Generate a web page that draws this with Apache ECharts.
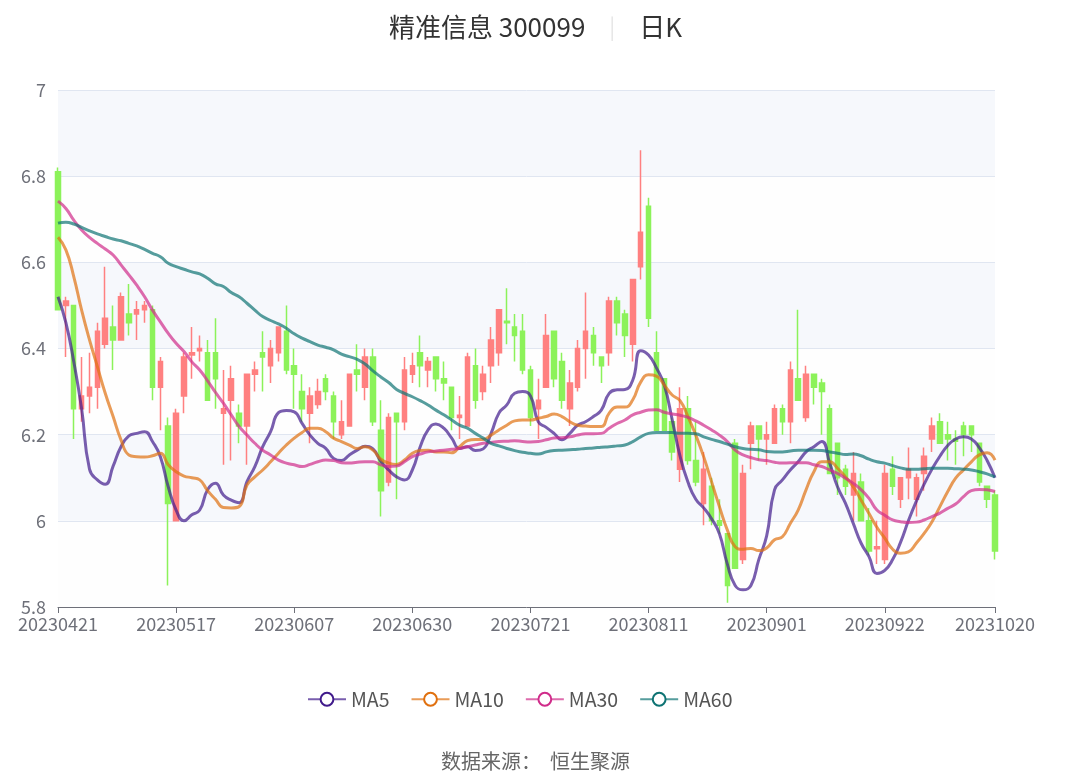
<!DOCTYPE html>
<html>
<head>
<meta charset="utf-8">
<script src="https://cdn.jsdelivr.net/npm/echarts@6/dist/echarts.min.js"></script>
<style>
html,body{margin:0;padding:0;background:#fff;}
#c{width:1071px;height:775px;}
</style>
</head>
<body>
<div id="c"></div>
<script>
var dates = ['20230421','20230424','20230425','20230426','20230427','20230428',
'20230504','20230505','20230508','20230509','20230510','20230511','20230512','20230515','20230516','20230517','20230518','20230519','20230522','20230523','20230524','20230525','20230526','20230529','20230530','20230531',
'20230601','20230602','20230605','20230606','20230607','20230608','20230609','20230612','20230613','20230614','20230615','20230616','20230619','20230620','20230621','20230626','20230627','20230628','20230629','20230630',
'20230703','20230704','20230705','20230706','20230707','20230710','20230711','20230712','20230713','20230714','20230717','20230718','20230719','20230720','20230721','20230724','20230725','20230726','20230727','20230728','20230731',
'20230801','20230802','20230803','20230804','20230807','20230808','20230809','20230810','20230811','20230814','20230815','20230816','20230817','20230818','20230821','20230822','20230823','20230824','20230825','20230828','20230829','20230830','20230831',
'20230901','20230904','20230905','20230906','20230907','20230908','20230911','20230912','20230913','20230914','20230915','20230918','20230919','20230920','20230921','20230922','20230925','20230926','20230927','20230928',
'20231009','20231010','20231011','20231012','20231013','20231016','20231017','20231018','20231019','20231020'];

// [open, close, low, high]
var kline = [
[6.81,6.49,6.49,6.82],[6.50,6.51,6.38,6.52],[6.50,6.26,6.19,6.50],[6.26,6.29,6.23,6.38],[6.29,6.31,6.25,6.39],
[6.31,6.44,6.26,6.46],[6.41,6.47,6.40,6.59],[6.45,6.42,6.35,6.50],[6.42,6.52,6.42,6.53],[6.48,6.46,6.43,6.55],
[6.48,6.49,6.42,6.51],[6.49,6.50,6.46,6.51],[6.49,6.31,6.28,6.50],[6.31,6.37,6.21,6.38],[6.22,6.04,5.85,6.24],
[6.00,6.25,6.00,6.26],[6.29,6.38,6.25,6.39],[6.385,6.39,6.33,6.45],[6.395,6.40,6.37,6.43],[6.39,6.28,6.28,6.42],
[6.39,6.33,6.26,6.47],[6.25,6.26,6.13,6.35],[6.28,6.33,6.14,6.36],[6.25,6.22,6.18,6.27],[6.22,6.34,6.13,6.34],
[6.34,6.35,6.30,6.37],[6.39,6.38,6.30,6.44],[6.36,6.40,6.32,6.42],[6.39,6.45,6.37,6.45],[6.44,6.35,6.34,6.50],
[6.36,6.34,6.26,6.40],[6.30,6.26,6.23,6.34],[6.25,6.29,6.18,6.31],[6.27,6.30,6.26,6.33],[6.33,6.30,6.28,6.34],
[6.29,6.23,6.19,6.30],[6.20,6.23,6.19,6.28],[6.22,6.34,6.22,6.34],[6.35,6.34,6.30,6.41],[6.31,6.38,6.28,6.40],
[6.38,6.23,6.22,6.40],[6.21,6.07,6.01,6.28],[6.09,6.24,6.08,6.25],[6.25,6.23,6.05,6.25],[6.23,6.35,6.21,6.38],
[6.34,6.36,6.32,6.39],[6.39,6.36,6.31,6.43],[6.35,6.37,6.31,6.38],[6.38,6.33,6.30,6.38],[6.33,6.32,6.28,6.37],
[6.31,6.24,6.21,6.31],[6.24,6.245,6.19,6.29],[6.22,6.38,6.22,6.39],[6.36,6.28,6.26,6.40],[6.30,6.34,6.28,6.36],
[6.36,6.42,6.32,6.45],[6.39,6.49,6.36,6.49],[6.463,6.46,6.41,6.54],[6.45,6.43,6.37,6.48],[6.44,6.35,6.34,6.48],
[6.35,6.24,6.22,6.36],[6.26,6.28,6.19,6.33],[6.31,6.43,6.31,6.48],[6.44,6.33,6.31,6.44],[6.37,6.28,6.26,6.39],
[6.26,6.32,6.22,6.35],[6.31,6.40,6.30,6.42],[6.40,6.44,6.33,6.53],[6.43,6.39,6.36,6.45],[6.38,6.36,6.32,6.38],
[6.39,6.51,6.36,6.52],[6.51,6.46,6.43,6.52],[6.48,6.43,6.38,6.49],[6.41,6.56,6.37,6.56],[6.59,6.67,6.56,6.86],
[6.73,6.47,6.45,6.75],[6.39,6.21,6.21,6.44],[6.33,6.21,6.21,6.33],[6.23,6.16,6.14,6.24],[6.12,6.26,6.09,6.31],
[6.26,6.14,6.13,6.29],[6.14,6.09,6.08,6.23],[6.04,6.12,5.99,6.16],[6.08,6.00,5.99,6.10],[6.00,5.99,5.97,6.05],
[5.97,5.85,5.81,5.97],[6.18,5.89,5.89,6.19],[5.91,6.11,5.90,6.13],[6.18,6.22,6.12,6.23],[6.22,6.19,6.14,6.22],
[6.19,6.20,6.13,6.23],[6.18,6.26,6.18,6.27],[6.26,6.23,6.20,6.27],[6.23,6.35,6.18,6.37],[6.33,6.28,6.28,6.49],
[6.24,6.34,6.23,6.36],[6.34,6.31,6.27,6.34],[6.32,6.30,6.20,6.33],[6.26,6.11,6.11,6.27],[6.18,6.10,6.06,6.18],
[6.12,6.08,6.06,6.13],[6.06,6.11,6.00,6.16],[6.09,6.00,6.00,6.11],[6.00,5.93,5.92,6.03],[5.935,5.94,5.90,6.00],
[5.91,6.11,5.90,6.13],[6.12,6.08,6.06,6.15],[6.05,6.10,6.03,6.10],[6.10,6.12,6.05,6.17],[6.05,6.10,6.01,6.11],
[6.11,6.15,6.07,6.17],[6.19,6.22,6.16,6.24],[6.23,6.18,6.18,6.25],[6.20,6.19,6.14,6.23],[6.19,6.185,6.13,6.21],
[6.22,6.20,6.15,6.23],[6.22,6.20,6.16,6.22],[6.18,6.09,6.08,6.18],[6.08,6.05,6.03,6.08],[6.06,5.93,5.91,6.07]
];

var ma5 = [6.52,6.46,6.37,6.26,6.12,6.095,6.085,6.127,6.172,6.197,6.203,6.207,6.184,6.149,6.079,6.025,6.000,6.014,6.025,6.072,
6.087,6.060,6.048,6.042,6.091,6.126,6.172,6.207,6.251,6.256,6.253,6.226,6.199,6.180,6.168,6.145,6.140,6.153,6.164,6.173,
6.167,6.138,6.118,6.102,6.095,6.118,6.172,6.211,6.225,6.215,6.192,6.168,6.172,6.163,6.167,6.203,6.250,6.269,6.296,6.300,
6.29,6.23,6.217,6.203,6.188,6.203,6.222,6.230,6.242,6.257,6.296,6.304,6.305,6.327,6.395,6.385,6.355,6.315,6.235,6.15,
6.09,6.05,6.03,6.005,5.97,5.90,5.85,5.84,5.85,5.91,5.965,6.072,6.095,6.118,6.137,6.160,6.172,6.184,6.134,6.079,
6.041,5.994,5.948,5.917,5.878,5.885,5.91,5.95,6.00,6.045,6.085,6.12,6.15,6.175,6.19,6.195,6.19,6.17,6.14,6.10];

var ma10 = [6.658,6.629,6.567,6.489,6.420,6.358,6.296,6.242,6.188,6.153,6.149,6.148,6.151,6.157,6.130,6.114,6.104,6.100,6.095,6.070,
6.050,6.031,6.030,6.033,6.083,6.102,6.118,6.137,6.157,6.176,6.192,6.205,6.215,6.215,6.207,6.192,6.184,6.176,6.168,6.172,
6.164,6.143,6.134,6.131,6.141,6.157,6.163,6.164,6.160,6.160,6.158,6.172,6.186,6.189,6.189,6.199,6.211,6.222,6.232,6.234,
6.234,6.238,6.242,6.248,6.242,6.230,6.222,6.220,6.219,6.219,6.250,6.264,6.264,6.281,6.322,6.339,6.336,6.315,6.292,6.279,
6.242,6.199,6.149,6.091,6.033,5.979,5.940,5.934,5.936,5.931,5.937,5.956,5.963,5.994,6.025,6.072,6.114,6.137,6.137,6.122,
6.102,6.079,6.048,6.017,5.985,5.96,5.934,5.925,5.928,5.948,5.971,5.998,6.033,6.068,6.099,6.118,6.137,6.153,6.158,6.141];

var ma30 = [6.742,6.725,6.698,6.675,6.658,6.644,6.631,6.617,6.594,6.571,6.547,6.520,6.489,6.462,6.435,6.412,6.393,6.369,6.350,6.325,
6.298,6.273,6.246,6.219,6.199,6.180,6.164,6.153,6.141,6.134,6.130,6.126,6.131,6.137,6.141,6.140,6.135,6.134,6.136,6.137,
6.137,6.130,6.126,6.127,6.137,6.149,6.155,6.160,6.162,6.164,6.166,6.168,6.172,6.176,6.180,6.182,6.184,6.185,6.186,6.184,
6.183,6.184,6.188,6.192,6.193,6.195,6.199,6.202,6.202,6.203,6.215,6.226,6.234,6.246,6.252,6.257,6.258,6.252,6.248,6.245,
6.240,6.232,6.222,6.211,6.199,6.184,6.164,6.153,6.147,6.142,6.140,6.136,6.134,6.135,6.135,6.135,6.130,6.126,6.118,6.110,
6.099,6.087,6.072,6.052,6.025,6.013,6.002,5.998,5.996,5.997,6.002,6.010,6.018,6.029,6.039,6.056,6.070,6.073,6.072,6.068];

var ma60 = [6.691,6.693,6.689,6.681,6.673,6.666,6.660,6.654,6.650,6.644,6.638,6.630,6.621,6.613,6.598,6.590,6.584,6.578,6.573,6.563,
6.550,6.544,6.530,6.520,6.505,6.489,6.474,6.465,6.457,6.447,6.434,6.424,6.416,6.408,6.403,6.397,6.387,6.381,6.375,6.364,
6.348,6.334,6.321,6.305,6.296,6.288,6.279,6.269,6.257,6.246,6.234,6.222,6.215,6.203,6.192,6.180,6.174,6.168,6.163,6.159,
6.157,6.155,6.160,6.163,6.164,6.165,6.166,6.168,6.169,6.171,6.172,6.174,6.176,6.184,6.195,6.203,6.205,6.205,6.205,6.203,
6.203,6.202,6.195,6.189,6.184,6.178,6.172,6.168,6.166,6.165,6.161,6.160,6.160,6.162,6.164,6.164,6.164,6.163,6.160,6.157,
6.154,6.155,6.151,6.143,6.137,6.134,6.128,6.123,6.120,6.120,6.121,6.122,6.122,6.122,6.121,6.120,6.118,6.114,6.109,6.102];

var maNames = ['MA5','MA10','MA30','MA60'];
var maColors = ['#401A8B','#E0700F','#D02C8A','#0E7373'];
var maData = [ma5, ma10, ma30, ma60];

var FONT = '"Noto Sans CJK SC","Noto Sans",sans-serif';
var chart = echarts.init(document.getElementById('c'));
var labelShow = function (idx) { return idx % 15 === 0 || idx === dates.length - 1; };

var lineSeries = maNames.map(function (n, k) {
  return {
    name: n, type: 'line', data: maData[k], smooth: true, showSymbol: false,
    symbol: 'emptyCircle', symbolSize: 12,
    itemStyle: { color: maColors[k], borderWidth: 2.5 },
    lineStyle: { width: 3, opacity: 0.7, color: maColors[k] },
    z: 3
  };
});

chart.setOption({
  animation: false,
  textStyle: { fontFamily: FONT },
  title: [{
    text: '{a|精准信息 300099}{s||}{a|日K}',
    left: 'center', top: 9,
    textStyle: {
      rich: {
        a: { fontSize: 26, color: '#333', fontWeight: 'normal', fontFamily: FONT },
        s: { fontSize: 22, color: '#e6e6e6', fontWeight: 'normal', padding: [0, 24, 0, 24], fontFamily: FONT }
      }
    }
  }, {
    text: '数据来源：  恒生聚源',
    left: 'center', top: 746,
    textStyle: { fontSize: 20, color: '#666', fontWeight: 'normal', fontFamily: FONT }
  }],
  legend: {
    data: maNames, bottom: 61, left: 302,
    itemWidth: 38, itemHeight: 16, itemGap: 21,
    textStyle: { fontSize: 19.5, color: '#555', fontFamily: FONT }
  },
  grid: { left: 58, right: 76, top: 90, bottom: 168 },
  xAxis: {
    type: 'category', data: dates, boundaryGap: false,
    axisLine: { lineStyle: { color: '#6E7079' } },
    axisTick: { interval: labelShow, length: 6 },
    axisLabel: { interval: labelShow, fontSize: 18, color: '#6E7079', margin: 8, fontFamily: FONT },
    splitLine: { show: false }
  },
  yAxis: {
    type: 'value', min: 5.8, max: 7, interval: 0.2, scale: true,
    axisLabel: { fontSize: 18, color: '#6E7079', margin: 12, fontFamily: FONT },
    splitLine: { lineStyle: { color: '#E0E6F1' } },
    splitArea: { show: true, areaStyle: { color: ['rgba(250,250,250,0.2)', 'rgba(210,219,238,0.2)'] } }
  },
  series: [{
    name: '日K', type: 'candlestick', data: kline, barWidth: 5,
    itemStyle: { color: '#FF8080', color0: '#8CF25A', borderColor: '#FF8080', borderColor0: '#8CF25A', borderWidth: 1.5 },
    z: 2
  }].concat(lineSeries)
});
</script>
</body>
</html>
